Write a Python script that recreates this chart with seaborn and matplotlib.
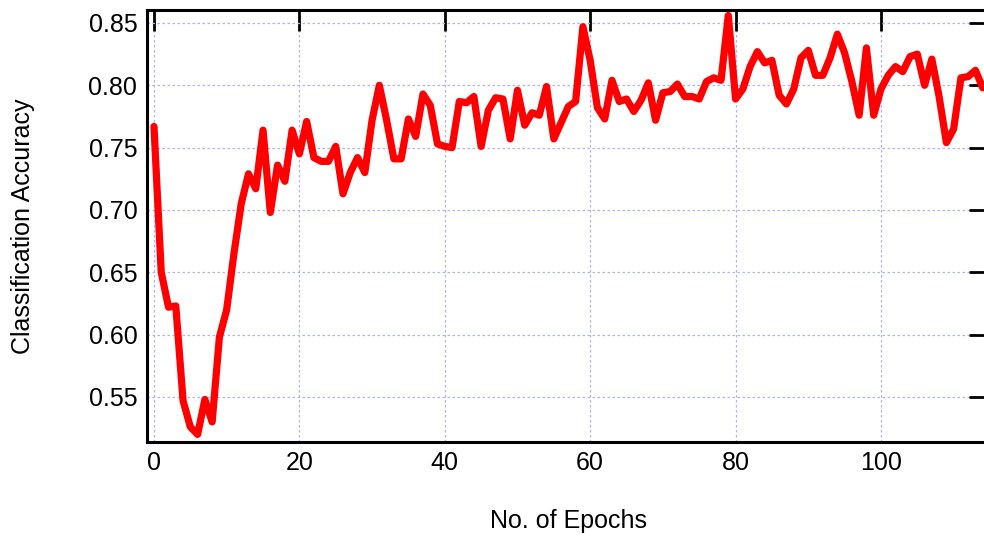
import matplotlib
matplotlib.use("Agg")
import matplotlib.pyplot as plt
import seaborn as sns
import pandas as pd
import numpy as np

epochs = list(range(0, 115))
accuracy = [
    0.767, 0.650, 0.622, 0.623, 0.547, 0.526, 0.520, 0.548, 0.530, 0.598,
    0.620, 0.665, 0.705, 0.729, 0.717, 0.764, 0.698, 0.736, 0.723, 0.764,
    0.745, 0.771, 0.742, 0.739, 0.739, 0.751, 0.713, 0.730, 0.742, 0.730,
    0.772, 0.800, 0.772, 0.741, 0.741, 0.773, 0.759, 0.793, 0.784, 0.753,
    0.751, 0.750, 0.787, 0.786, 0.791, 0.751, 0.780, 0.790, 0.789, 0.757,
    0.796, 0.768, 0.778, 0.776, 0.799, 0.757, 0.770, 0.783, 0.787, 0.847,
    0.820, 0.782, 0.773, 0.804, 0.787, 0.789, 0.779, 0.788, 0.802, 0.772,
    0.794, 0.795, 0.801, 0.791, 0.791, 0.789, 0.803, 0.806, 0.804, 0.856,
    0.789, 0.797, 0.815, 0.827, 0.818, 0.820, 0.792, 0.785, 0.797, 0.822,
    0.828, 0.808, 0.808, 0.822, 0.841, 0.826, 0.803, 0.776, 0.830, 0.776,
    0.797, 0.808, 0.815, 0.811, 0.823, 0.825, 0.800, 0.821, 0.791, 0.754,
    0.765, 0.806, 0.807, 0.812, 0.798,
]
x_ticks = [0, 20, 40, 60, 80, 100]
y_ticks = [0.55, 0.60, 0.65, 0.70, 0.75, 0.80, 0.85]

df = pd.DataFrame({"epoch": epochs, "acc": accuracy})

sns.set_style("white")
plt.rcParams["font.family"] = ["Liberation Sans", "DejaVu Sans"]

fig = plt.figure(figsize=(9.84, 5.40), dpi=100)
ax = fig.add_axes([147/984, 1-442/540, (990-147)/984, 432/540])

sns.lineplot(data=df, x="epoch", y="acc", ax=ax, color="#ff0000", linewidth=5.2, zorder=3)

ax.set_xlim(-0.96, 115.0)
ax.set_ylim(0.5139, 0.8604)
ax.set_xticks(x_ticks)
ax.set_yticks(y_ticks)
ax.set_yticklabels([f"{v:.2f}" for v in y_ticks])

ax.grid(True, color="#b0b0ff", linestyle=(0, (2, 2)), linewidth=0.9, zorder=0)
for s in ax.spines.values():
    s.set_linewidth(2.2)
    s.set_color("black")
    s.set_visible(True)

ax.tick_params(axis="both", direction="in", length=15, width=2, color="black",
               top=True, right=True, labelsize=18, labelcolor="black")
ax.tick_params(axis="x", pad=6.5)
ax.tick_params(axis="y", pad=7)

ax.set_xlabel("No. of Epochs", fontsize=18, color="black")
ax.set_ylabel("Classification Accuracy", fontsize=18, color="black")
ax.xaxis.set_label_coords(0.5, -0.155)
ax.yaxis.set_label_coords(-0.133, 0.5)

fig.savefig("out.png", dpi=100)
